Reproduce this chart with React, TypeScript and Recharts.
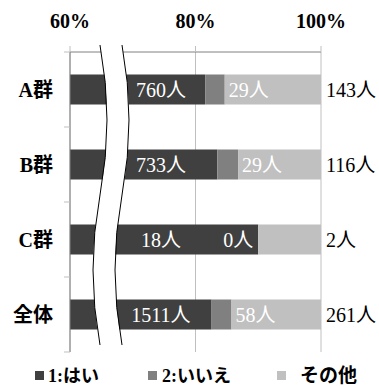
import { Bar, BarChart, CartesianGrid, LabelList, XAxis, YAxis } from 'recharts';

const groups = ['A群', 'B群', 'C群', '全体'];
const yesCounts = [760, 733, 18, 1511];
const noCounts = [29, 29, 0, 58];
const otherCounts = [143, 116, 2, 261];
const xTicks = [60, 80, 100];
const seriesNames = ['1:はい', '2:いいえ', 'その他'];
const seriesColors = ['#404040', '#808080', '#c0c0c0'];

const data = groups.map((name, i) => {
  const total = yesCounts[i] + noCounts[i] + otherCounts[i];
  return {
    name,
    yes: (yesCounts[i] / total) * 100,
    no: (noCounts[i] / total) * 100,
    other: (otherCounts[i] / total) * 100,
    yesN: yesCounts[i],
    noN: noCounts[i],
    otherN: otherCounts[i],
  };
});

const W = 379;
const H = 387;
const TOP = 52;
const BOTTOM = 35;
const X_MIN = 60;
const HALF_BAND = (H - TOP - BOTTOM) / groups.length / 2;
const serif = "'Liberation Serif', 'Noto Sans CJK JP', serif";

const XTick = ({ x, y, payload }: any) => (
  <text x={x} y={y - 18} textAnchor="middle" fontFamily={serif} fontWeight="bold" fontSize={20} fill="#000">
    {payload.value}%
  </text>
);

const YTick = ({ x, y, payload, index }: any) => (
  <g>
    <text x={x - 17} y={y + 7.5} textAnchor="end" fontFamily={serif} fontWeight="bold" fontSize={20} fill="#000">
      {payload.value}
    </text>
    <line x1={x - 6} x2={x} y1={y - HALF_BAND} y2={y - HALF_BAND} stroke="#bfbfbf" />
    {index === groups.length - 1 && <line x1={x - 6} x2={x} y1={y + HALF_BAND} y2={y + HALF_BAND} stroke="#bfbfbf" />}
  </g>
);

const valueText = (x: number, y: number, v: any, anchor: string, fill: string) => (
  <text x={x} y={y} textAnchor={anchor as any} fontFamily={serif} fontSize={20} fill={fill}>
    {v}人
  </text>
);

// はい: fixed spot right of the axis break (bars are clamped at the 60% edge)
const YesLabel = (p: any) => {
  const ppu = p.width / (data[p.index].yes - X_MIN);
  return valueText(p.x + (74.5 - X_MIN) * ppu, p.y + p.height / 2 + 7.5, p.value, 'middle', '#fff');
};

// いいえ with zero count sits just inside the end of はい
const ZeroNoLabel = (p: any) => {
  if (data[p.index].noN !== 0) return null;
  return valueText(p.x + p.width - 5, p.y + p.height / 2 + 7.5, 0, 'end', '#fff');
};

const NoLabel = (p: any) => {
  if (!p.value) return null;
  return valueText(p.x + p.width + 4, p.y + p.height / 2 + 7.5, p.value, 'start', '#fff');
};

const OtherLabel = (p: any) => valueText(p.x + p.width + 5, p.y + p.height / 2 + 7.5, p.value, 'start', '#000');

const Overlay = () => {
  const boxX = [35, 148, 277];
  const textX = [48, 162, 300];
  const band = 'M100,45 Q114,120 100,195 Q86,270 100,345 L122,345 Q108,270 122,195 Q136,120 122,45 Z';
  return (
    <svg width={W} height={H} style={{ position: 'absolute', left: 0, top: 0, pointerEvents: 'none' }}>
      <path d={band} fill="#fff" />
      <path d="M100,45 Q114,120 100,195 Q86,270 100,345" fill="none" stroke="#000" strokeWidth={1} />
      <path d="M122,45 Q136,120 122,195 Q108,270 122,345" fill="none" stroke="#000" strokeWidth={1} />
      {seriesNames.map((n, i) => (
        <g key={n}>
          <rect x={boxX[i]} y={371} width={9} height={9} fill={seriesColors[i]} />
          <text
            x={textX[i]}
            y={382}
            fontFamily={i === 2 ? "'Noto Sans CJK JP', sans-serif" : serif}
            fontWeight="bold"
            fontSize={i === 2 ? 19 : 18}
            fill="#000"
          >
            {n}
          </text>
        </g>
      ))}
    </svg>
  );
};

export default function App() {
  return (
    <div style={{ position: 'relative', width: W, height: H, background: '#fff' }}>
      <style>{'body{margin:0}'}</style>
      <BarChart
        width={W}
        height={H}
        data={data}
        layout="vertical"
        barCategoryGap="30%"
        margin={{ top: 0, right: 58, bottom: BOTTOM, left: 0 }}
      >
        <CartesianGrid horizontal={false} stroke="#c0c0c0" />
        <XAxis
          type="number"
          orientation="top"
          domain={[X_MIN, 100]}
          allowDataOverflow
          ticks={xTicks}
          height={TOP}
          tickSize={6}
          tickMargin={0}
          axisLine={{ stroke: '#808080' }}
          tickLine={{ stroke: '#bfbfbf' }}
          tick={<XTick />}
        />
        <YAxis
          type="category"
          dataKey="name"
          width={70}
          tickSize={0}
          tickMargin={0}
          axisLine={{ stroke: '#808080' }}
          tickLine={false}
          tick={<YTick />}
        />
        <Bar dataKey="yes" stackId="s" fill={seriesColors[0]} isAnimationActive={false}>
          <LabelList dataKey="yesN" content={<YesLabel />} />
          <LabelList dataKey="noN" content={<ZeroNoLabel />} />
        </Bar>
        <Bar dataKey="no" stackId="s" fill={seriesColors[1]} isAnimationActive={false}>
          <LabelList dataKey="noN" content={<NoLabel />} />
        </Bar>
        <Bar dataKey="other" stackId="s" fill={seriesColors[2]} isAnimationActive={false}>
          <LabelList dataKey="otherN" content={<OtherLabel />} />
        </Bar>
      </BarChart>
      <Overlay />
    </div>
  );
}
